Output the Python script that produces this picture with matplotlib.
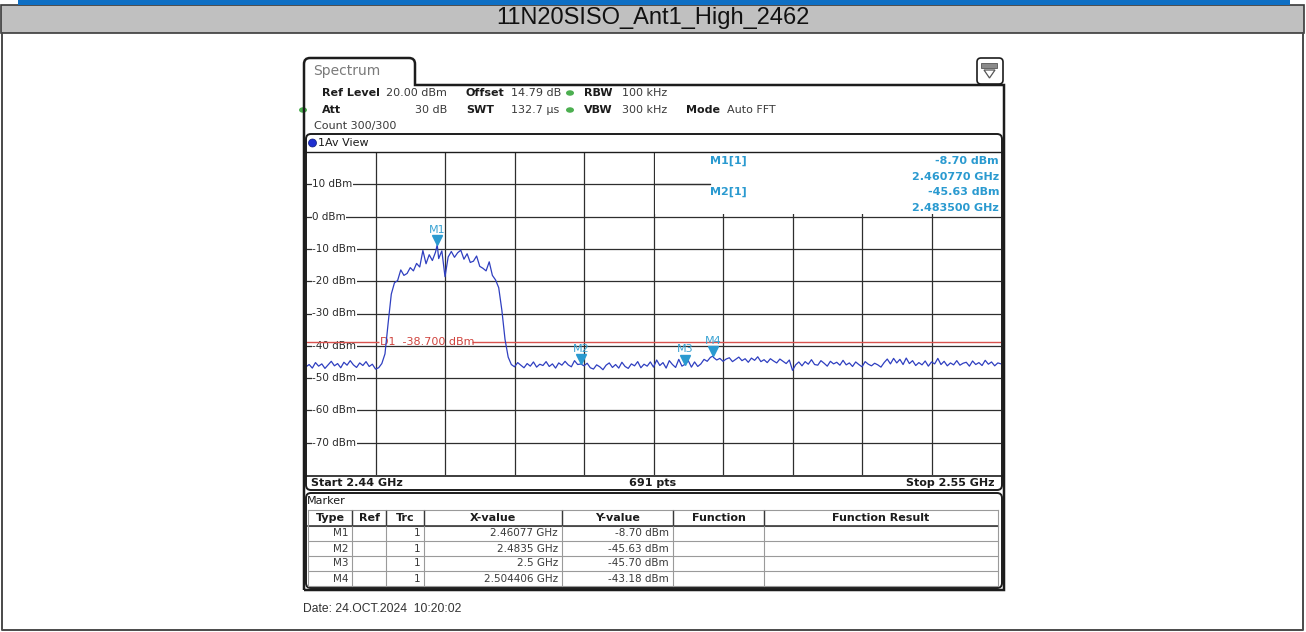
import numpy as np
import matplotlib
matplotlib.use("Agg")
import matplotlib.pyplot as plt
import matplotlib.transforms as mtransforms
from matplotlib.patches import Rectangle, FancyBboxPatch, Polygon, Circle, Ellipse, PathPatch
from matplotlib.path import Path

# ---------------- data ----------------
title = "11N20SISO_Ant1_High_2462"
start_ghz = 2.44
stop_ghz = 2.55
sweep_points = 691
ref_level_dbm = 20.0
offset_db = 14.79
att_db = 30
rbw_khz = 100
vbw_khz = 300
swt_us = 132.7
count_text = "Count 300/300"
date_text = "Date: 24.OCT.2024  10:20:02"

y_top_dbm = 20
y_bottom_dbm = -80
y_tick_dbm = [10, 0, -10, -20, -30, -40, -50, -60, -70]
display_line_dbm = -38.7

# averaged trace, one value every 0.5 MHz from start to stop
trace_step_ghz = 0.0005
trace_dbm = [
    -46.5, -45.8, -46.9, -45.2, -46.3, -45.6, -47.0, -45.9, -44.8, -46.2,
    -45.5, -46.8, -45.1, -46.0, -44.6, -45.9, -46.7, -45.3, -46.1, -44.9,
    -46.4, -45.7, -47.2, -46.8, -45.5, -42.5, -33.0, -24.0, -20.5, -19.8,
    -16.5, -18.2, -17.6, -15.8, -16.8, -14.5, -15.6, -10.5, -14.6, -11.8,
    -13.6, -11.0, -13.0, -10.6, -18.6, -12.5, -10.8, -12.6, -11.2, -10.4,
    -13.2, -11.5, -14.2, -13.8, -12.2, -15.4, -16.0, -16.8, -14.0, -18.2,
    -19.6, -22.0, -29.0, -38.0, -43.5, -45.8, -46.5, -45.2, -46.0, -46.8,
    -45.5, -46.3, -45.0, -46.6, -45.7, -46.1, -44.9, -46.4, -45.6, -46.9,
    -45.3, -46.0, -44.8, -45.9, -46.5, -44.6, -45.8, -45.63, -46.2, -45.4,
    -46.8, -47.2, -45.9, -46.5, -47.4, -46.0, -45.3, -46.7, -45.8, -46.9,
    -45.1, -46.4, -47.0, -45.6, -46.2, -44.9, -46.8, -45.7, -46.3, -45.0,
    -46.6, -44.4, -46.1, -45.2, -46.9, -44.6, -45.8, -46.7, -44.2, -46.3,
    -45.70, -44.6, -46.6, -45.0, -46.4, -45.6, -44.2, -44.8, -43.6, -43.6,
    -44.4, -43.9, -44.8, -44.1, -43.7, -44.9, -44.2, -43.5, -44.6, -44.0,
    -45.1, -43.8, -44.5, -43.4, -44.9, -44.3, -45.2, -44.0, -44.7, -45.3,
    -44.1, -44.8, -45.5, -44.4, -47.6, -45.9, -45.0, -46.2, -44.9, -45.7,
    -44.3, -45.8, -46.0, -44.6, -45.4, -46.3, -44.8, -45.6, -45.1, -46.0,
    -44.5, -45.9, -45.3, -46.4, -45.0, -45.8, -46.5, -44.9, -45.7, -46.2,
    -45.4, -45.9, -46.6, -45.2, -44.1, -45.6, -43.9, -45.3, -44.2, -45.8,
    -43.8, -45.5, -44.6, -46.1, -45.2, -45.9, -44.7, -46.3, -45.0, -45.6,
    -43.9, -45.8, -44.8, -46.2, -45.3, -45.9, -44.6, -46.0, -45.4, -45.1,
    -46.3, -44.7, -45.8, -45.2, -46.1, -44.5, -45.7, -45.0, -46.2, -45.3,
    -45.6,
]

marker_names = ["M1", "M2", "M3", "M4"]
marker_freq_ghz = [2.46077, 2.4835, 2.5, 2.504406]
marker_level_dbm = [-8.70, -45.63, -45.70, -43.18]
marker_trace = [1, 1, 1, 1]
info_markers = ["M1", "M2"]

table_headers = ["Type", "Ref", "Trc", "X-value", "Y-value", "Function", "Function Result"]

# ---------------- figure ----------------
W, H = 1306, 632
fig = plt.figure(figsize=(W / 100, H / 100), dpi=100)

def pixel_axes():
    a = fig.add_axes([0, 0, 1, 1])
    a.set_xlim(0, W)
    a.set_ylim(H, 0)
    a.axis("off")
    a.patch.set_alpha(0)
    return a

bg = pixel_axes()

INSTR = "DejaVu Sans"
ARIAL = "Liberation Sans"
DARK = "#1c1c1c"
MK = "#2a9ad0"

# page header
bg.add_patch(Rectangle((1, 5), W - 3, 28, fc="#c0c0c0", ec="#3a3a3a", lw=1.2, zorder=1))
bg.add_patch(Rectangle((18, 0), 1272, 5, fc="#0e6fc4", ec="none", zorder=2))
bg.text(W / 2, 18, title, family=ARIAL, fontsize=17, ha="center", va="center", color="#111111")
# page frame
bg.plot([2, 2, 1303, 1303], [33, 630, 630, 33], color="#4a4a4a", lw=1.4)

# settings block
hdr_fs = 8
def label_value(x, y, lab, val, val_x):
    bg.text(x, y, lab, family=INSTR, fontsize=hdr_fs, fontweight="bold", color=DARK, va="center")
    bg.text(val_x, y, val, family=INSTR, fontsize=hdr_fs, color="#3a3a3a", va="center")

label_value(322, 93, "Ref Level", f"{ref_level_dbm:.2f} dBm", 386)
label_value(466, 93, "Offset", f"{offset_db:.2f} dB", 511)
label_value(584, 93, "RBW", f"{rbw_khz} kHz", 622)
bg.text(322, 110, "Att", family=INSTR, fontsize=hdr_fs, fontweight="bold", color=DARK, va="center")
bg.text(447, 110, f"{att_db} dB", family=INSTR, fontsize=hdr_fs, color="#3a3a3a", va="center", ha="right")
label_value(466, 110, "SWT", f"{swt_us:.1f} µs", 511)
label_value(584, 110, "VBW", f"{vbw_khz} kHz", 622)
label_value(686, 110, "Mode", "Auto FFT", 727)
bg.text(314, 126, count_text, family=INSTR, fontsize=hdr_fs, color="#3a3a3a", va="center")
for cx, cy in [(570, 93), (303, 110), (570, 110)]:
    bg.add_patch(Ellipse((cx, cy), 8, 5.5, fc="#4caf50", ec="none", zorder=4))

# ---------------- spectrum diagram ----------------
L, R, T, B = 306, 1001, 152, 475
ax = fig.add_axes([L / W, 1 - B / H, (R - L) / W, (B - T) / H])
ax.set_xlim(start_ghz, stop_ghz)
ax.set_ylim(y_bottom_dbm, y_top_dbm)
ax.axis("off")
ax.patch.set_alpha(0)

GRID = "#2e2e2e"
div = (stop_ghz - start_ghz) / 10
vgrid = [start_ghz + k * div for k in range(1, 10)]
ax.vlines(vgrid, y_bottom_dbm, y_top_dbm, color=GRID, lw=0.9, zorder=1)

# marker info area covers the upper right grid cells
ax.add_patch(Rectangle((vgrid[4] + 0.0002, 0.9), stop_ghz - vgrid[4], y_top_dbm,
                       fc="white", ec="none", zorder=1.5))

blend = mtransforms.blended_transform_factory(ax.transAxes, ax.transData)
info_line_end = 2.504
for v in y_tick_dbm:
    xmax = info_line_end if v == y_tick_dbm[0] else stop_ghz
    ax.hlines(v, start_ghz, xmax, color=GRID, lw=0.9, zorder=2)
    ax.text(0.009, v, f"{v} dBm", transform=blend, family=INSTR, fontsize=7.5, color="#2a2a2a",
            ha="left", va="center", zorder=2.5,
            bbox=dict(fc="white", ec="none", pad=0.4))

# display line D1
d1_gap = (2.4515, 2.4662)
ax.hlines(display_line_dbm, start_ghz, d1_gap[0], color="#d9534f", lw=1.0, zorder=2.6)
ax.hlines(display_line_dbm, d1_gap[1], stop_ghz, color="#d9534f", lw=1.0, zorder=2.6)
ax.text(d1_gap[0] + 0.0002, display_line_dbm, f"D1  {display_line_dbm:.3f} dBm", family=INSTR,
        fontsize=8, color="#d0443e", ha="left", va="center", zorder=2.7)

# trace, with marker positions merged into the sweep
freq = start_ghz + trace_step_ghz * np.arange(len(trace_dbm))
lev = np.array(trace_dbm, dtype=float)
for mf, ml in zip(marker_freq_ghz, marker_level_dbm):
    k = int(np.searchsorted(freq, mf))
    if k < len(freq) and np.isclose(freq[k], mf):
        lev[k] = ml
    else:
        freq = np.insert(freq, k, mf)
        lev = np.insert(lev, k, ml)
ax.plot(freq, lev, color="#2f3fc0", lw=0.9, zorder=3, clip_on=True)

# markers
tri_tf = mtransforms.offset_copy(ax.transData, fig=fig, x=0, y=4.6, units="dots")
lab_tf = mtransforms.offset_copy(ax.transData, fig=fig, x=0, y=15, units="dots")
for name, mf, ml in zip(marker_names, marker_freq_ghz, marker_level_dbm):
    ax.plot([mf], [ml], marker="v", markersize=6.8, color=MK, mec=MK, transform=tri_tf, zorder=4)
    ax.text(mf, ml, name, transform=lab_tf, family=INSTR, fontsize=8, color="#3aa3d3",
            ha="center", va="center", zorder=4)

# ---------------- frames and overlay texts ----------------
fg = pixel_axes()

# instrument window with tab
P = Path
verts = [(304, 590), (304, 64), (304, 58), (310, 58), (409, 58), (415, 58), (415, 64),
         (415, 85), (1004, 85), (1004, 590), (304, 590)]
codes = [P.MOVETO, P.LINETO, P.CURVE3, P.CURVE3, P.LINETO, P.CURVE3, P.CURVE3,
         P.LINETO, P.LINETO, P.LINETO, P.LINETO]
fg.add_patch(PathPatch(Path(verts, codes), fc="none", ec=DARK, lw=1.8, zorder=3))
fg.text(313, 71, "Spectrum", family=INSTR, fontsize=10, color="#7a7a7a", va="center")

# menu icon
fg.add_patch(FancyBboxPatch((977, 58), 26, 26, boxstyle="round,pad=0,rounding_size=4",
                            fc="white", ec=DARK, lw=1.2, zorder=3))
fg.add_patch(Rectangle((981, 63), 16, 4.5, fc="#8a8a8a", ec="#555555", lw=0.6, zorder=4))
fg.add_patch(Polygon([(984, 70), (995, 70), (989.5, 78)], closed=True, fc="white",
                     ec="#555555", lw=0.9, zorder=4))

# diagram frame
fg.add_patch(FancyBboxPatch((306, 134), 696, 356, boxstyle="round,pad=0,rounding_size=5",
                            fc="none", ec=DARK, lw=1.4, zorder=3))
fg.plot([306, 1002], [152, 152], color=DARK, lw=1.0, zorder=3)
fg.plot([306, 1002], [476, 476], color=DARK, lw=1.2, zorder=3)
fg.add_patch(Circle((312.5, 143), 4, fc="#1f2fd0", ec="#10207a", lw=0.5, zorder=4))
fg.text(318, 143, "1Av View", family=INSTR, fontsize=8, color=DARK, va="center")
fg.text(311, 483, f"Start {start_ghz:g} GHz", family=INSTR, fontsize=8, fontweight="bold", color=DARK, va="center")
fg.text(653, 483, f"{sweep_points} pts", family=INSTR, fontsize=8, fontweight="bold", color=DARK, va="center", ha="center")
fg.text(995, 483, f"Stop {stop_ghz:g} GHz", family=INSTR, fontsize=8, fontweight="bold", color=DARK, va="center", ha="right")

# marker info block
fg.plot([654, 710], [184, 184], color=GRID, lw=0.9, zorder=3)
info_y = [161, 177, 192, 208]
row = 0
for name in info_markers:
    i = marker_names.index(name)
    fg.text(710, info_y[row], f"{name}[{marker_trace[i]}]", family=INSTR, fontsize=8,
            fontweight="bold", color=MK, va="center", zorder=4)
    fg.text(999, info_y[row], f"{marker_level_dbm[i]:.2f} dBm", family=INSTR, fontsize=8,
            fontweight="bold", color=MK, va="center", ha="right", zorder=4)
    fg.text(999, info_y[row + 1], f"{marker_freq_ghz[i]:.6f} GHz", family=INSTR, fontsize=8,
            fontweight="bold", color=MK, va="center", ha="right", zorder=4)
    row += 2

# ---------------- marker table ----------------
fg.add_patch(FancyBboxPatch((306, 493), 696, 95, boxstyle="round,pad=0,rounding_size=5",
                            fc="none", ec=DARK, lw=1.4, zorder=3))
fg.text(307, 501, "Marker", family=INSTR, fontsize=8, color=DARK, va="center")
col_x = [308, 352, 386, 424, 562, 673, 764, 998]
row_y = [510, 526, 541, 556, 571, 586]
TBL = "#9a9a9a"
for yy in row_y:
    fg.plot([col_x[0], col_x[-1]], [yy, yy], color=TBL, lw=0.8, zorder=3)
fg.plot([col_x[0], col_x[-1]], [526, 526], color="#3a3a3a", lw=1.2, zorder=3)
for xx in col_x:
    fg.plot([xx, xx], [row_y[0], row_y[-1]], color=TBL, lw=0.8, zorder=3)
for xx in col_x[1:-1]:
    fg.plot([xx, xx], [row_y[0] + 1, row_y[1] - 1], color="#3a3a3a", lw=1.0, zorder=3)
for h, x0, x1 in zip(table_headers, col_x[:-1], col_x[1:]):
    fg.text((x0 + x1) / 2, 518, h, family=INSTR, fontsize=8, fontweight="bold", color=DARK,
            ha="center", va="center", zorder=4)
for r, (name, mf, ml, tr) in enumerate(zip(marker_names, marker_freq_ghz, marker_level_dbm, marker_trace)):
    yc = (row_y[r + 1] + row_y[r + 2]) / 2
    cells = [(name, col_x[1]), (str(tr), col_x[3]), (f"{mf} GHz", col_x[4]), (f"{ml:.2f} dBm", col_x[5])]
    for txt, xr in cells:
        fg.text(xr - 4, yc, txt, family=INSTR, fontsize=7.5, color="#3a3a3a", ha="right",
                va="center", zorder=4)

fg.text(303, 609, date_text, family=ARIAL, fontsize=8.7, color="#333333", va="center")

fig.savefig("out.png", dpi=100, facecolor="white")
